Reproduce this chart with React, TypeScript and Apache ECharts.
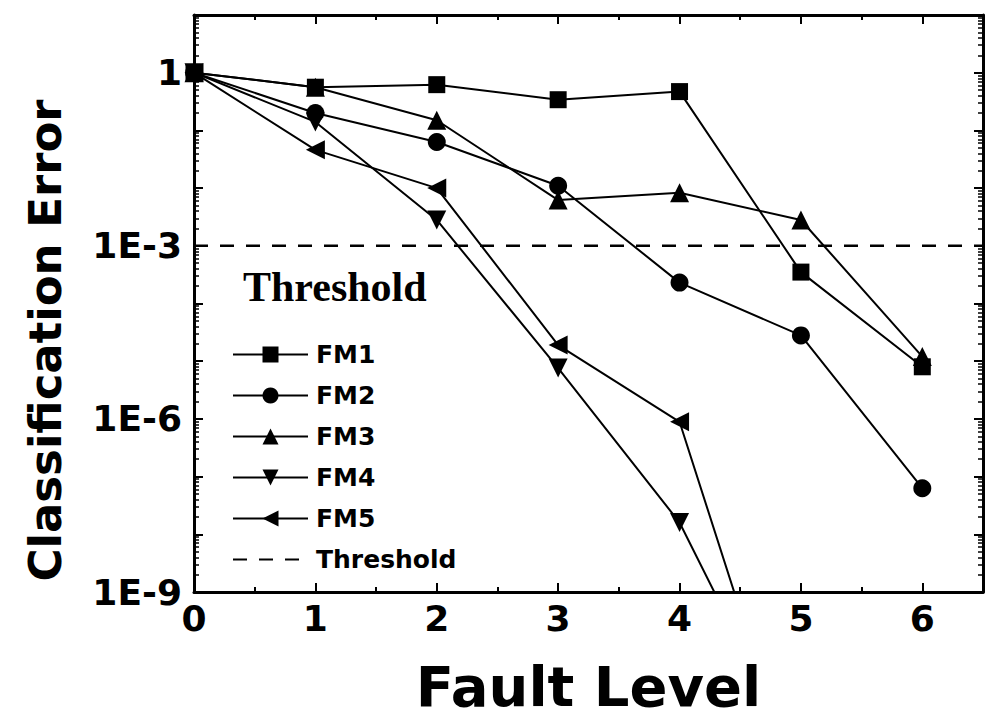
import React, { useEffect, useRef } from "react";
import * as echarts from "echarts";

const faultLevels = [0, 1, 2, 3, 4, 5, 6];
const fm1 = [1, 0.56, 0.62, 0.34, 0.47, 3.5e-4, 8e-6];
const fm2 = [1, 0.2, 0.063, 0.011, 2.3e-4, 2.8e-5, 6.3e-8];
const fm3 = [1, 0.56, 0.15, 6.2e-3, 8.3e-3, 2.8e-3, 1.2e-5];
const fm4 = [1, 0.14, 2.8e-3, 7.6e-6, 1.6e-8, 1e-12];
const fm5 = [1, 0.046, 0.01, 1.9e-5, 8.9e-7, 2.5e-13];
const thresholdX = [0, 6.5];
const thresholdValue = 1e-3;
const xTickLabels = ["0", "1", "2", "3", "4", "5", "6"];
const seriesNames = ["FM1", "FM2", "FM3", "FM4", "FM5", "Threshold"];

const SANS = "DejaVu Sans";
const SERIF = "Liberation Serif";

function pairs(vals: number[]) {
  return vals.map((v, i) => [faultLevels[i], v]);
}

function yLabel(v: number) {
  const e = Math.log10(v);
  const r = Math.round(e);
  if (Math.abs(e - r) > 0.01) return "";
  if (r % 3 !== 0 || r > 0) return "";
  return r === 0 ? "1" : "1E" + r;
}

function xLabel(v: number) {
  const i = faultLevels.indexOf(v);
  return i >= 0 ? xTickLabels[i] : "";
}

export default function App() {
  const ref = useRef<HTMLDivElement>(null);
  useEffect(() => {
    if (!ref.current) return;
    const chart = echarts.init(ref.current, null, { renderer: "svg" });
    const axisLine = { show: true, onZero: false, lineStyle: { color: "#000", width: 3 } };
    const tick = { show: true, inside: true, length: 9, lineStyle: { color: "#000", width: 2 } };
    const xCommon = {
      type: "value",
      min: 0,
      max: 6.5,
      interval: 1,
      axisLine,
      axisTick: tick,
      minorTick: { show: true, splitNumber: 2, length: 5, lineStyle: { color: "#000", width: 2 } },
      splitLine: { show: false },
    };
    const yCommon = {
      type: "log",
      logBase: 10,
      min: 1e-9,
      max: 9.99,
      splitNumber: 10,
      axisLine,
      axisTick: tick,
      minorTick: { show: true, splitNumber: 9, length: 5, lineStyle: { color: "#000", width: 1.5 } },
      splitLine: { show: false },
    };
    const mk = (name: string, data: number[], symbol: string, size: number, rotate = 0) => ({
      name,
      type: "line",
      xAxisIndex: 0,
      yAxisIndex: 0,
      data: pairs(data),
      symbol,
      symbolSize: size,
      symbolRotate: rotate,
      showAllSymbol: true,
      clip: true,
      color: "#000",
      itemStyle: { color: "#000" },
      lineStyle: { color: "#000", width: 2 },
    });
    chart.setOption({
      animation: false,
      backgroundColor: "#fff",
      grid: { left: 194, right: 4, top: 15, bottom: 134, containLabel: false },
      xAxis: [
        {
          ...xCommon,
          position: "bottom",
          axisLabel: {
            show: true,
            margin: 8,
            color: "#000",
            fontFamily: SANS,
            fontWeight: "bold",
            fontSize: 36,
            formatter: xLabel,
          },
          name: "Fault Level",
          nameLocation: "middle",
          nameGap: 66,
          nameTextStyle: { color: "#000", fontFamily: SANS, fontWeight: "bold", fontSize: 56 },
        },
        { ...xCommon, position: "top", axisLabel: { show: false } },
      ],
      yAxis: [
        {
          ...yCommon,
          position: "left",
          axisLabel: {
            show: true,
            margin: 12,
            color: "#000",
            fontFamily: SANS,
            fontWeight: "bold",
            fontSize: 36,
            formatter: yLabel,
          },
          name: "Classification Error",
          nameLocation: "middle",
          nameGap: 126,
          nameTextStyle: {
            color: "#000",
            fontFamily: SANS,
            fontWeight: "bold",
            fontSize: 45,
            padding: [0, 74, 0, 0],
          },
        },
        { ...yCommon, position: "right", axisLabel: { show: false } },
      ],
      legend: {
        orient: "vertical",
        left: 227,
        top: 337,
        itemWidth: 75,
        itemHeight: 20,
        itemGap: 16,
        symbolRotate: "inherit",
        textStyle: {
          color: "#000",
          fontFamily: SANS,
          fontWeight: "bold",
          fontSize: 25,
          padding: [0, 0, 0, 3],
        },
        data: [
          seriesNames[0],
          seriesNames[1],
          seriesNames[2],
          seriesNames[3],
          seriesNames[4],
          { name: seriesNames[5], itemStyle: { opacity: 0 } },
        ],
      },
      graphic: [
        {
          type: "text",
          x: 243,
          y: 287,
          style: {
            text: "Threshold",
            fill: "#000",
            fontFamily: SERIF,
            fontWeight: "bold",
            fontSize: 42,
            textAlign: "left",
            textVerticalAlign: "middle",
          },
        },
      ],
      series: [
        mk(seriesNames[0], fm1, "rect", 17),
        mk(seriesNames[1], fm2, "circle", 18),
        mk(seriesNames[2], fm3, "triangle", 19),
        mk(seriesNames[3], fm4, "triangle", 19, 180),
        mk(seriesNames[4], fm5, "triangle", 19, 90),
        {
          name: seriesNames[5],
          type: "line",
          xAxisIndex: 0,
          yAxisIndex: 0,
          data: thresholdX.map((x) => [x, thresholdValue]),
          symbol: "none",
          color: "#000",
          lineStyle: { color: "#000", width: 2.5, type: [14, 12] },
          z: 1,
        },
      ],
    });
    return () => chart.dispose();
  }, []);
  return (
    <div
      ref={ref}
      style={{ position: "fixed", left: 0, top: 0, width: 987, height: 726, background: "#fff" }}
    />
  );
}
